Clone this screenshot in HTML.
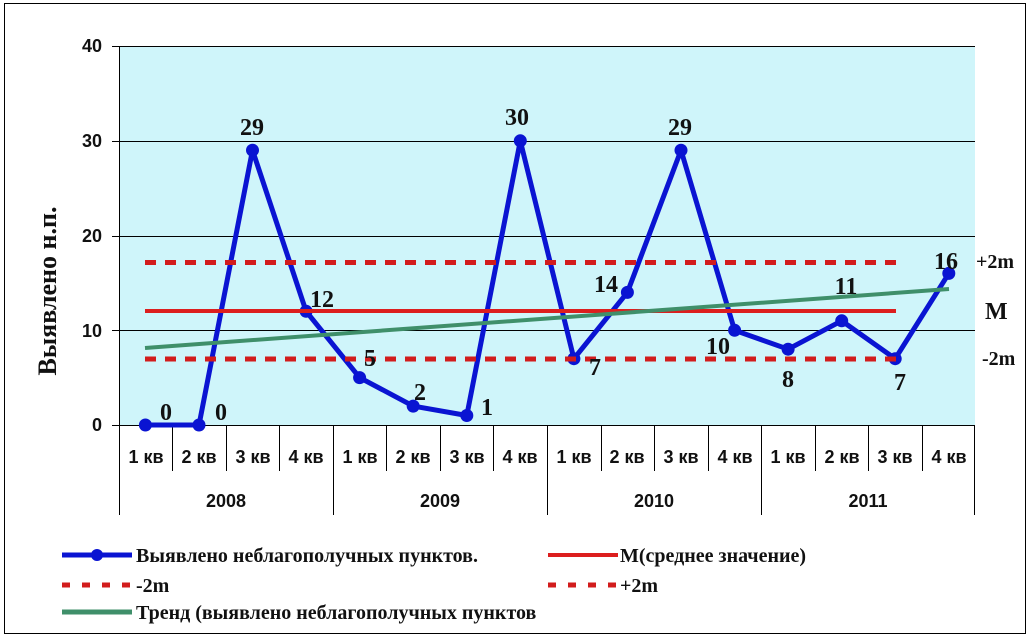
<!DOCTYPE html>
<html><head><meta charset="utf-8"><style>
html,body{margin:0;padding:0;background:#fff;}
svg{display:block;}
.ax{font-family:"Liberation Sans",Arial,sans-serif;font-weight:bold;font-size:18px;fill:#111;}
.sf{font-family:"Liberation Serif","Times New Roman",serif;font-weight:bold;fill:#111;}
</style></head><body>
<svg width="1029" height="637" viewBox="0 0 1029 637" xmlns="http://www.w3.org/2000/svg">
<rect x="4.5" y="3.5" width="1021" height="630" fill="#fff" stroke="#000" stroke-width="1"/>
<rect x="119" y="46" width="856" height="379" fill="#cff5fa"/>
<g stroke="#000" stroke-width="1">
<line x1="112" y1="46.5" x2="975" y2="46.5"/>
<line x1="112" y1="141.5" x2="975" y2="141.5"/>
<line x1="112" y1="236.5" x2="975" y2="236.5"/>
<line x1="112" y1="330.5" x2="975" y2="330.5"/>
<line x1="112" y1="425.5" x2="975" y2="425.5"/>
<line x1="119.5" y1="46" x2="119.5" y2="425"/>
</g>
<g class="ax" text-anchor="end">
<text x="102" y="52">40</text><text x="102" y="147">30</text><text x="102" y="242">20</text><text x="102" y="337">10</text><text x="102" y="431">0</text>
</g>
<text class="sf" font-size="26" transform="translate(56,291) rotate(-90)" text-anchor="middle">Выявлено н.п.</text>
<g stroke="#000" stroke-width="1">
<line x1="172.5" y1="425" x2="172.5" y2="471"/><line x1="226.5" y1="425" x2="226.5" y2="471"/><line x1="279.5" y1="425" x2="279.5" y2="471"/>
<line x1="333.5" y1="425" x2="333.5" y2="515"/>
<line x1="386.5" y1="425" x2="386.5" y2="471"/><line x1="440.5" y1="425" x2="440.5" y2="471"/><line x1="493.5" y1="425" x2="493.5" y2="471"/>
<line x1="547.5" y1="425" x2="547.5" y2="515"/>
<line x1="601.5" y1="425" x2="601.5" y2="471"/><line x1="654.5" y1="425" x2="654.5" y2="471"/><line x1="708.5" y1="425" x2="708.5" y2="471"/>
<line x1="761.5" y1="425" x2="761.5" y2="515"/>
<line x1="815.5" y1="425" x2="815.5" y2="471"/><line x1="868.5" y1="425" x2="868.5" y2="471"/><line x1="922.5" y1="425" x2="922.5" y2="471"/>
<line x1="119.5" y1="425" x2="119.5" y2="515"/><line x1="974.5" y1="425" x2="974.5" y2="515"/>
</g>
<g class="ax" text-anchor="middle">
<text x="146" y="463">1 кв</text><text x="199" y="463">2 кв</text><text x="253" y="463">3 кв</text><text x="306" y="463">4 кв</text>
<text x="360" y="463">1 кв</text><text x="413" y="463">2 кв</text><text x="467" y="463">3 кв</text><text x="520" y="463">4 кв</text>
<text x="574" y="463">1 кв</text><text x="627" y="463">2 кв</text><text x="681" y="463">3 кв</text><text x="735" y="463">4 кв</text>
<text x="788" y="463">1 кв</text><text x="842" y="463">2 кв</text><text x="895" y="463">3 кв</text><text x="949" y="463">4 кв</text>
<text x="226" y="507">2008</text><text x="440" y="507">2009</text><text x="654" y="507">2010</text><text x="868" y="507">2011</text>
</g>
<polyline fill="none" stroke="#0a14d2" stroke-width="5" stroke-linejoin="round" points="145.4,425 199,425 252.5,150.2 306.1,311.3 359.6,377.6 413.2,406.1 466.8,415.5 520.3,140.8 573.9,358.7 627.4,292.4 681,150.2 734.6,330.3 788.1,349.2 841.7,320.8 895.2,358.7 948.8,273.4"/>
<g fill="#0a14d2">
<circle cx="145.4" cy="425" r="6.5"/><circle cx="199" cy="425" r="6.5"/><circle cx="252.5" cy="150.2" r="6.5"/><circle cx="306.1" cy="311.3" r="6.5"/>
<circle cx="359.6" cy="377.6" r="6.5"/><circle cx="413.2" cy="406.1" r="6.5"/><circle cx="466.8" cy="415.5" r="6.5"/><circle cx="520.3" cy="140.8" r="6.5"/>
<circle cx="573.9" cy="358.7" r="6.5"/><circle cx="627.4" cy="292.4" r="6.5"/><circle cx="681" cy="150.2" r="6.5"/><circle cx="734.6" cy="330.3" r="6.5"/>
<circle cx="788.1" cy="349.2" r="6.5"/><circle cx="841.7" cy="320.8" r="6.5"/><circle cx="895.2" cy="358.7" r="6.5"/><circle cx="948.8" cy="273.4" r="6.5"/>
</g>
<line x1="145" y1="311" x2="896" y2="311" stroke="#dc1e1e" stroke-width="4"/>
<line x1="145" y1="262.5" x2="896" y2="262.5" stroke="#d21c1c" stroke-width="5" stroke-dasharray="11,9"/>
<line x1="145" y1="359" x2="896" y2="359" stroke="#d21c1c" stroke-width="5" stroke-dasharray="11,9"/>
<line x1="145" y1="348" x2="949" y2="289" stroke="#3f8f6a" stroke-width="4"/>
<g class="sf" font-size="24" text-anchor="middle">
<text x="166" y="420">0</text><text x="221" y="420">0</text><text x="252" y="135">29</text><text x="322" y="307">12</text>
<text x="370" y="366">5</text><text x="420" y="400">2</text><text x="487" y="415">1</text><text x="517" y="125">30</text>
<text x="595" y="375">7</text><text x="606" y="292">14</text><text x="680" y="135">29</text><text x="718" y="354">10</text>
<text x="788" y="387">8</text><text x="846" y="294">11</text><text x="900" y="390">7</text><text x="946" y="269">16</text>
</g>
<g class="sf" font-size="20">
<text x="976" y="268">+2m</text><text x="985" y="319" font-size="24">M</text><text x="982" y="365">-2m</text>
</g>
<line x1="62" y1="555" x2="132" y2="555" stroke="#0a14d2" stroke-width="5"/><circle cx="97" cy="555" r="6" fill="#0a14d2"/>
<line x1="62" y1="585" x2="132" y2="585" stroke="#d21c1c" stroke-width="5" stroke-dasharray="8,12"/>
<line x1="62" y1="612" x2="132" y2="612" stroke="#3f8f6a" stroke-width="5"/>
<line x1="548" y1="555" x2="618" y2="555" stroke="#dc1e1e" stroke-width="4"/>
<line x1="548" y1="585" x2="618" y2="585" stroke="#d21c1c" stroke-width="5" stroke-dasharray="8,12"/>
<g class="sf" font-size="20">
<text x="136" y="562">Выявлено неблагополучных пунктов.</text>
<text x="136" y="592">-2m</text>
<text x="136" y="619">Тренд (выявлено неблагополучных пунктов</text>
<text x="620" y="562">М(среднее значение)</text>
<text x="620" y="592">+2m</text>
</g>
</svg>
</body></html>
